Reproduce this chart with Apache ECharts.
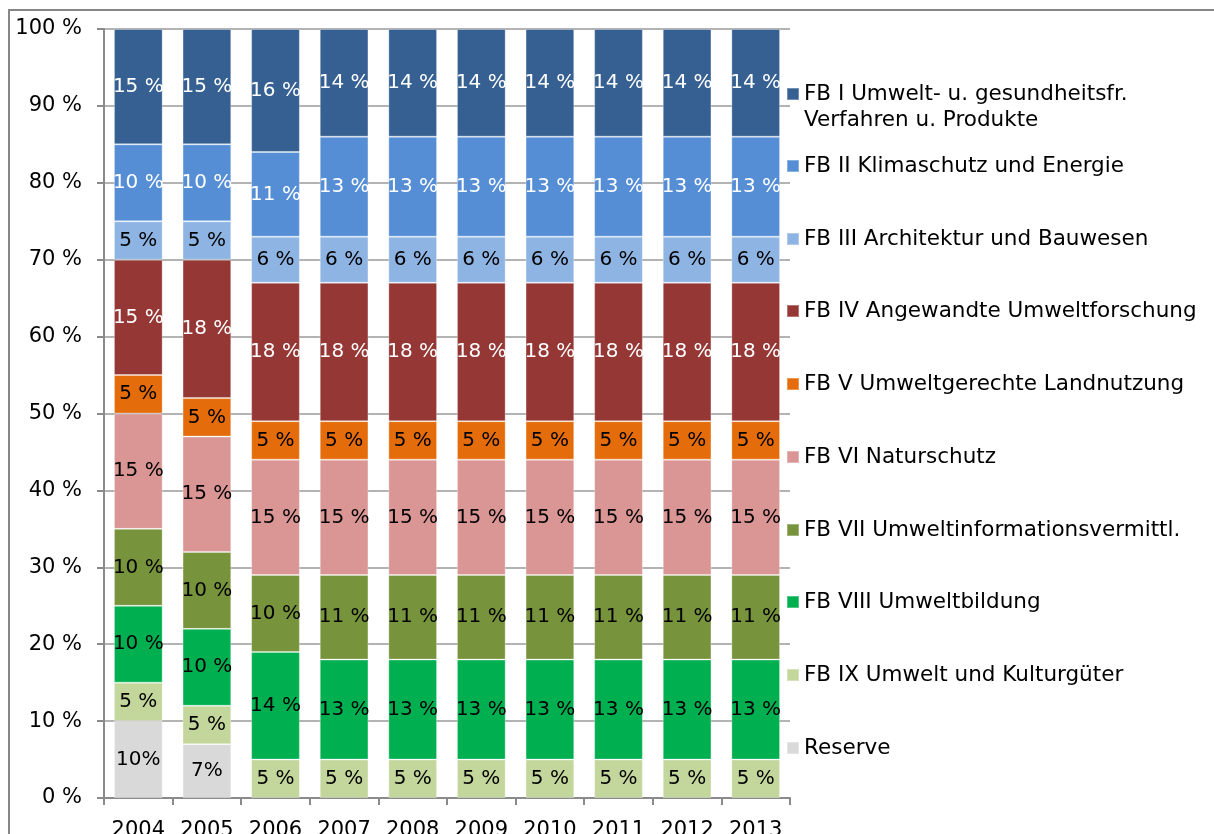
<!DOCTYPE html>
<html>
<head>
<meta charset="utf-8">
<script src="https://cdn.jsdelivr.net/npm/echarts@6/dist/echarts.min.js"></script>
<style>
  html, body { margin: 0; padding: 0; background: #fff; overflow: hidden; }
  #chart { width: 1214px; height: 834px; }
</style>
</head>
<body>
<div id="chart"></div>
<script>
// Jahre
const years = ['2004', '2005', '2006', '2007', '2008', '2009', '2010', '2011', '2012', '2013']

// Anteile je Förderbereich in %, von unten nach oben gestapelt
const reserve = [10, 7, null, null, null, null, null, null, null, null]
const fb9 = [5, 5, 5, 5, 5, 5, 5, 5, 5, 5]
const fb8 = [10, 10, 14, 13, 13, 13, 13, 13, 13, 13]
const fb7 = [10, 10, 10, 11, 11, 11, 11, 11, 11, 11]
const fb6 = [15, 15, 15, 15, 15, 15, 15, 15, 15, 15]
const fb5 = [5, 5, 5, 5, 5, 5, 5, 5, 5, 5]
const fb4 = [15, 18, 18, 18, 18, 18, 18, 18, 18, 18]
const fb3 = [5, 5, 6, 6, 6, 6, 6, 6, 6, 6]
const fb2 = [10, 10, 11, 13, 13, 13, 13, 13, 13, 13]
const fb1 = [15, 15, 16, 14, 14, 14, 14, 14, 14, 14]

const yTicks = [0, 10, 20, 30, 40, 50, 60, 70, 80, 90, 100]

const FONT = 'DejaVu Sans, Verdana, sans-serif'

// name, data, colour, label colour
const seriesDef = [
  ['Reserve', reserve, '#D9D9D9', '#000'],
  ['FB IX Umwelt und Kulturgüter', fb9, '#C3D69B', '#000'],
  ['FB VIII Umweltbildung', fb8, '#00B050', '#000'],
  ['FB VII Umweltinformationsvermittl.', fb7, '#77933C', '#000'],
  ['FB VI Naturschutz', fb6, '#D99694', '#000'],
  ['FB V Umweltgerechte Landnutzung', fb5, '#E46C0A', '#000'],
  ['FB IV Angewandte Umweltforschung', fb4, '#953735', '#fff'],
  ['FB III Architektur und Bauwesen', fb3, '#8EB4E3', '#000'],
  ['FB II Klimaschutz und Energie', fb2, '#558ED5', '#fff'],
  ['FB I Umwelt- u. gesundheitsfr. Verfahren u. Produkte', fb1, '#376092', '#fff']
]

const series = seriesDef.map(([name, data, color, labelColor]) => ({
  name,
  type: 'bar',
  stack: 'total',
  barCategoryGap: '29%',
  itemStyle: {
    color,
    borderColor: 'rgba(255,255,255,0.3)',
    borderWidth: 1
  },
  label: {
    show: true,
    position: 'inside',
    color: labelColor,
    fontFamily: FONT,
    fontSize: 20,
    formatter: p => {
      if (p.value == null) return ''
      return name === 'Reserve' ? p.value + '%' : p.value + ' %'
    }
  },
  data
}))

// Legende: ein Eintrag pro Block, von oben nach unten
const legendOrder = seriesDef.map(s => s[0]).reverse()
const legendCenters = [93, 165, 238, 310, 383, 456, 529, 601, 674, 747]
const legend = legendOrder.map((name, i) => ({
  data: [name],
  left: 786,
  top: i === 0 ? legendCenters[i] - 38 : legendCenters[i] - 12,
  padding: 0,
  itemWidth: 12,
  itemHeight: 12,
  itemGap: 0,
  selectedMode: false,
  icon: 'rect',
  textStyle: {
    fontFamily: FONT,
    fontSize: 21.5,
    lineHeight: 26,
    color: '#000'
  },
  formatter: n => n.startsWith('FB I ')
    ? ' \nFB I Umwelt- u. gesundheitsfr.\nVerfahren u. Produkte'
    : n
}))

const option = {
  animation: false,
  backgroundColor: '#fff',
  graphic: [{
    type: 'polyline',
    silent: true,
    shape: { points: [[9, 3000], [9, 10], [3000, 10]] },
    style: { fill: 'none', stroke: '#878787', lineWidth: 2 }
  }],
  legend,
  grid: {
    left: 104,
    right: 424,
    top: 29,
    bottom: 36,
    outerBoundsMode: 'none'
  },
  xAxis: {
    type: 'category',
    data: years,
    axisLine: { lineStyle: { color: '#8a8a8a', width: 2 } },
    axisTick: { show: true, length: 7, lineStyle: { color: '#8a8a8a', width: 2 } },
    axisLabel: {
      interval: 0,
      hideOverlap: false,
      color: '#000',
      fontFamily: FONT,
      fontSize: 21,
      margin: 22
    }
  },
  yAxis: {
    type: 'value',
    min: yTicks[0],
    max: yTicks[yTicks.length - 1],
    interval: 10,
    axisLine: { show: true, lineStyle: { color: '#8a8a8a', width: 2 } },
    axisTick: { show: true, length: 7, lineStyle: { color: '#8a8a8a', width: 2 } },
    axisLabel: {
      color: '#000',
      fontFamily: FONT,
      fontSize: 21,
      margin: 22,
      formatter: '{value} %'
    },
    splitLine: { lineStyle: { color: '#9a9a9a', width: 1.5 } }
  },
  series
}

const myChart = echarts.init(document.getElementById('chart'))
myChart.setOption(option)
</script>
</body>
</html>
